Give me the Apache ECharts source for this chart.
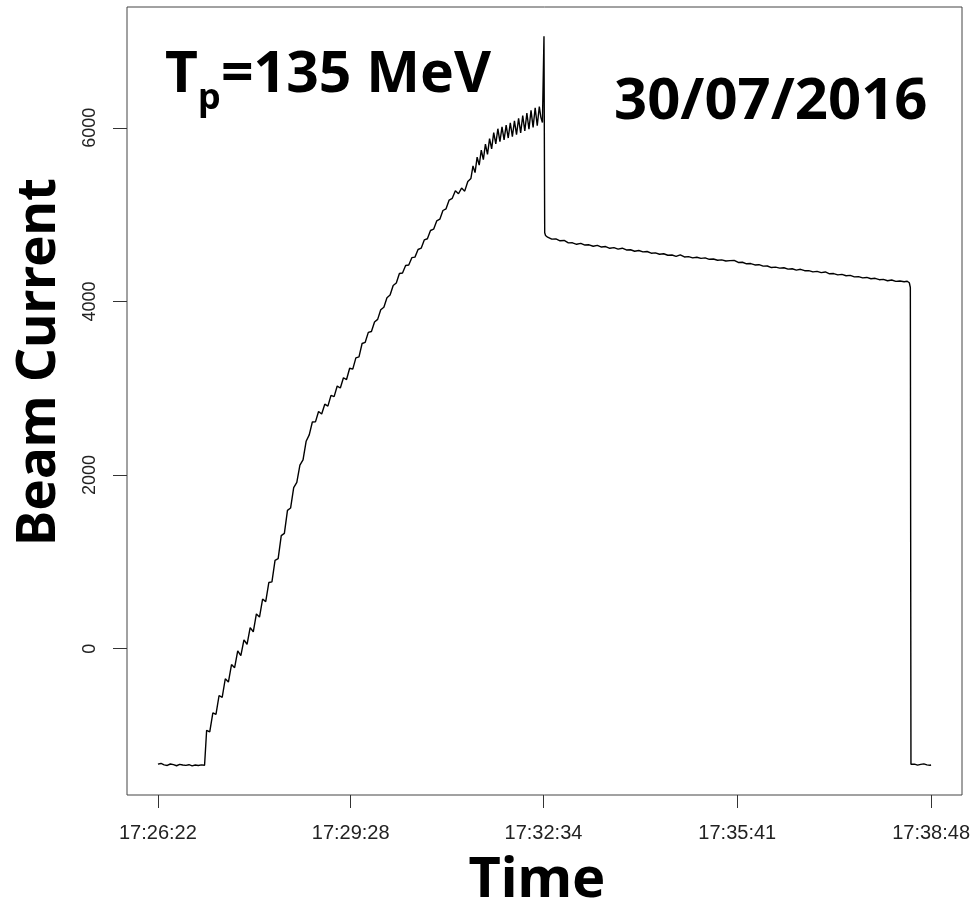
<!DOCTYPE html>
<html>
<head>
<meta charset="utf-8">
<script src="https://cdn.jsdelivr.net/npm/echarts@6/dist/echarts.min.js"></script>
<style>
  html, body { margin: 0; padding: 0; background: #fff; }
  #chart { width: 973px; height: 903px; }
</style>
</head>
<body>
<div id="chart"></div>
<script>
// seconds after 17:26:22, beam current
const tickSeconds = [0, 186, 372, 559, 746];
const tickLabels = ['17:26:22', '17:29:28', '17:32:34', '17:35:41', '17:38:48'];
const yTicks = [0, 2000, 4000, 6000];

const baseline1 = [
  [0, -1330], [3, -1322], [6, -1338], [9, -1345], [12, -1328], [15, -1335], [18, -1348], [21, -1332],
  [24, -1340], [27, -1344], [30, -1336], [33, -1349], [36, -1340], [39, -1345], [42, -1338], [45, -1342],
  [46.3, -1336]
];

const ramp = [
  [47, -940], [50, -959], [53, -738], [56, -757], [59, -539], [62, -561], [65, -346], [68, -384],
  [71, -182], [74, -219], [77, -25], [80, -81], [83, 102], [86, 51], [89, 242], [92, 195],
  [95, 400], [98, 365], [101, 572], [104, 542], [107, 762], [110, 770], [113, 1018], [116, 1037],
  [119, 1302], [122, 1328], [125, 1594], [128, 1620], [131, 1856], [134, 1916], [137, 2115], [140, 2175],
  [143, 2389], [146, 2463], [149, 2611], [152, 2612], [155, 2732], [158, 2704], [161, 2816], [164, 2794],
  [167, 2918], [170, 2903], [173, 3025], [176, 3003], [179, 3121], [182, 3100], [185, 3230], [188, 3220],
  [191, 3349], [194, 3361], [197, 3515], [200, 3529], [203, 3643], [206, 3653], [209, 3763], [212, 3793],
  [215, 3903], [218, 3933], [221, 4043], [224, 4073], [227, 4183], [230, 4212], [233, 4322], [236, 4327],
  [239, 4413], [242, 4419], [245, 4504], [248, 4510], [251, 4598], [254, 4613], [257, 4708], [260, 4722],
  [263, 4817], [266, 4832], [269, 4927], [272, 4947], [275, 5047], [278, 5067], [281, 5167], [284, 5187],
  [287, 5275], [290, 5240], [293, 5305], [296, 5270], [299, 5382], [302, 5417],
  [304, 5560], [306, 5483], [308, 5661], [310, 5570], [312, 5742], [314, 5634], [316, 5811], [318, 5693],
  [320, 5875], [322, 5757], [324, 5944], [326, 5815], [328, 5989], [330, 5839], [332, 6010], [334, 5861],
  [336, 6031], [338, 5882], [340, 6058], [342, 5899], [344, 6079], [346, 5921], [348, 6109], [350, 5942],
  [352, 6140], [354, 5963], [356, 6170], [358, 5983], [360, 6201], [362, 6004], [364, 6231], [366, 6024],
  [368, 6245], [369.5, 6120], [371, 6060], [372, 6040]
];

const spike = [[372.5, 7055], [373.2, 4790], [374, 4760]];

const plateau = [
  [376, 4740], [380, 4717], [384, 4720], [388, 4698], [392, 4702], [396, 4674], [400, 4675], [404, 4658],
  [408, 4669], [412, 4649], [416, 4652], [420, 4635], [424, 4646], [428, 4626], [432, 4632], [436, 4612],
  [440, 4619], [444, 4603], [448, 4613], [452, 4593], [456, 4595], [460, 4578], [464, 4586], [468, 4571],
  [472, 4575], [476, 4555], [480, 4559], [484, 4543], [488, 4549], [492, 4532], [496, 4535], [500, 4519],
  [504, 4536], [508, 4512], [512, 4516], [516, 4501], [520, 4509], [524, 4496], [528, 4501], [532, 4485],
  [536, 4488], [540, 4474], [544, 4479], [548, 4465], [552, 4470], [556, 4473], [560, 4449], [564, 4451],
  [568, 4433], [572, 4436], [576, 4420], [580, 4423], [584, 4406], [588, 4408], [592, 4390], [596, 4395],
  [600, 4383], [604, 4388], [608, 4372], [612, 4376], [616, 4361], [620, 4370], [624, 4354], [628, 4355],
  [632, 4340], [636, 4346], [640, 4331], [644, 4339], [648, 4318], [652, 4321], [656, 4306], [660, 4311],
  [664, 4296], [668, 4300], [672, 4283], [676, 4286], [680, 4271], [684, 4276], [688, 4261], [692, 4266],
  [696, 4250], [700, 4254], [704, 4238], [708, 4247], [712, 4231], [716, 4235], [720, 4227], [723, 4232],
  [725, 4215], [726, 4160]
];

const baseline2 = [
  [726.6, -1330], [728, -1336], [730, -1330], [733, -1341], [736, -1332], [739, -1326], [742, -1338],
  [745, -1342], [746, -1340]
];

const beam = [...baseline1, ...ramp, ...spike, ...plateau, ...baseline2];

const chart = echarts.init(document.getElementById('chart'));

const bigFont = { fontFamily: 'Noto Sans', fontWeight: 'bold', fill: '#000' };

const option = {
  animation: false,
  backgroundColor: '#fff',
  grid: {
    left: 127, right: 8, top: 7, bottom: 108,
    show: true, borderColor: '#444', borderWidth: 1
  },
  xAxis: {
    type: 'value',
    min: -29.84,
    max: 775.84,
    splitLine: { show: false },
    axisLine: { show: false, onZero: false },
    axisTick: { show: true, length: 13, customValues: tickSeconds, lineStyle: { color: '#333' } },
    axisLabel: {
      customValues: tickSeconds,
      margin: 28,
      fontFamily: 'Liberation Sans',
      fontSize: 20,
      color: '#222',
      formatter: v => tickLabels[tickSeconds.indexOf(v)]
    }
  },
  yAxis: {
    type: 'value',
    min: -1685,
    max: 7391,
    splitLine: { show: false },
    axisLine: { show: false, onZero: false },
    axisTick: { show: true, length: 14, customValues: yTicks, lineStyle: { color: '#333' } },
    axisLabel: {
      customValues: yTicks,
      rotate: 90,
      margin: 28,
      fontFamily: 'Liberation Sans',
      fontSize: 18,
      color: '#222',
      formatter: v => String(v)
    }
  },
  graphic: [
    { type: 'text', x: 165, y: 47, style: { ...bigFont, text: 'T', fontSize: 57 } },
    { type: 'text', x: 198, y: 81, style: { ...bigFont, text: 'p', fontSize: 36 } },
    { type: 'text', x: 221, y: 47, style: { ...bigFont, text: '=135 MeV', fontSize: 57 } },
    { type: 'text', x: 614, y: 73, style: { ...bigFont, text: '30/07/2016', fontSize: 58 } },
    {
      type: 'text', x: 537, y: 853,
      style: { ...bigFont, text: 'Time', fontSize: 56, align: 'center' }
    },
    {
      type: 'text', x: 40, y: 362, rotation: Math.PI / 2,
      style: { ...bigFont, text: 'Beam Current', fontSize: 53, align: 'center', verticalAlign: 'middle' }
    }
  ],
  series: [
    {
      type: 'line',
      data: beam,
      symbol: 'none',
      lineStyle: { color: '#000', width: 1.4 }
    }
  ]
};

chart.setOption(option);
</script>
</body>
</html>
